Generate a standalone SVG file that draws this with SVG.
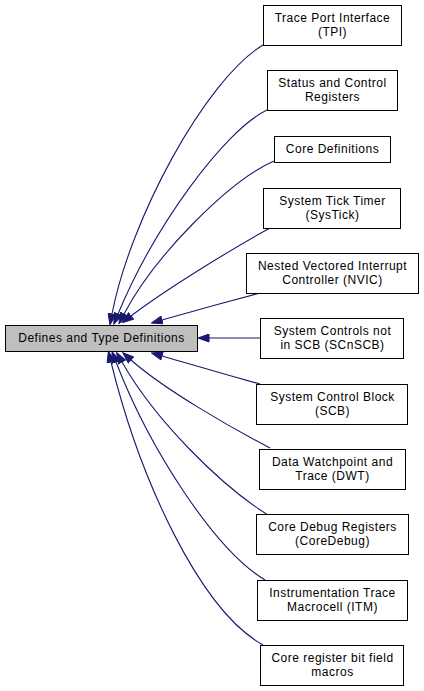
<svg xmlns="http://www.w3.org/2000/svg" width="424" height="691" viewBox="0 0 424 691">
<style>
.n rect{fill:#fff;stroke:#000;stroke-width:1}
.n.main rect{fill:#bfbfbf}
.n text{font-family:"Liberation Sans",Arial,sans-serif;font-size:12px;letter-spacing:0.5px;text-anchor:middle;fill:#000}
.e path{fill:none;stroke:#191970;stroke-width:1.1;marker-end:url(#ah)}
</style>
<defs>
<marker id="ah" viewBox="0 0 12 9" refX="0.5" refY="4.5" markerWidth="12" markerHeight="9" markerUnits="userSpaceOnUse" orient="auto">
<path d="M0.5,0.5 L11.5,4.5 L0.5,8.5 z" fill="#191970" stroke="#191970" stroke-width="1"/>
</marker>
</defs>
<rect width="424" height="691" fill="#fff"/>
<g id="edges" class="e">
<path d="M263,45 C205,80 130,220 112,314"/>
<path d="M267,110 C225,130 155,225 118,314"/>
<path d="M274,161 C230,180 155,255 124,314"/>
<path d="M270,228 C230,250 165,290 131,316"/>
<path d="M260,293 C230,301 190,312 162,320"/>
<path d="M260,338 L209,338"/>
<path d="M260,384 C230,376 190,364 162,356"/>
<path d="M270,448 C230,427 165,390 131,360"/>
<path d="M268,515 C220,485 155,420 122,362"/>
<path d="M265,580 C215,550 150,450 116,362"/>
<path d="M263,645 C200,610 140,480 111,362"/>
</g>
<g id="main" class="n main"><rect x="5.5" y="325.5" width="192" height="26"/><text x="101.5" y="342">Defines and Type Definitions</text></g>
<g id="tpi" class="n"><rect x="263.5" y="5.5" width="138" height="40"/><text x="332.5" y="22">Trace Port Interface</text><text x="332.5" y="36">(TPI)</text></g>
<g id="status" class="n"><rect x="267.5" y="70.5" width="130" height="40"/><text x="332.5" y="87">Status and Control</text><text x="332.5" y="101">Registers</text></g>
<g id="coredef" class="n"><rect x="274.5" y="136.5" width="116" height="26"/><text x="332.5" y="153">Core Definitions</text></g>
<g id="systick" class="n"><rect x="263.5" y="188.5" width="137" height="40"/><text x="332.5" y="205">System Tick Timer</text><text x="332.5" y="219">(SysTick)</text></g>
<g id="nvic" class="n"><rect x="246.5" y="253.5" width="172" height="40"/><text x="332.5" y="270">Nested Vectored Interrupt</text><text x="332.5" y="284">Controller (NVIC)</text></g>
<g id="scnscb" class="n"><rect x="260.5" y="318.5" width="143" height="40"/><text x="332.5" y="335">System Controls not</text><text x="332.5" y="349">in SCB (SCnSCB)</text></g>
<g id="scb" class="n"><rect x="256.5" y="384.5" width="151" height="40"/><text x="332.5" y="401">System Control Block</text><text x="332.5" y="415">(SCB)</text></g>
<g id="dwt" class="n"><rect x="259.5" y="449.5" width="146" height="40"/><text x="332.5" y="466">Data Watchpoint and</text><text x="332.5" y="480">Trace (DWT)</text></g>
<g id="coredebug" class="n"><rect x="256.5" y="514.5" width="152" height="40"/><text x="332.5" y="531">Core Debug Registers</text><text x="332.5" y="545">(CoreDebug)</text></g>
<g id="itm" class="n"><rect x="257.5" y="580.5" width="150" height="40"/><text x="332.5" y="597">Instrumentation Trace</text><text x="332.5" y="611">Macrocell (ITM)</text></g>
<g id="corereg" class="n"><rect x="260.5" y="645.5" width="143" height="40"/><text x="332.5" y="662">Core register bit field</text><text x="332.5" y="676">macros</text></g>
</svg>
